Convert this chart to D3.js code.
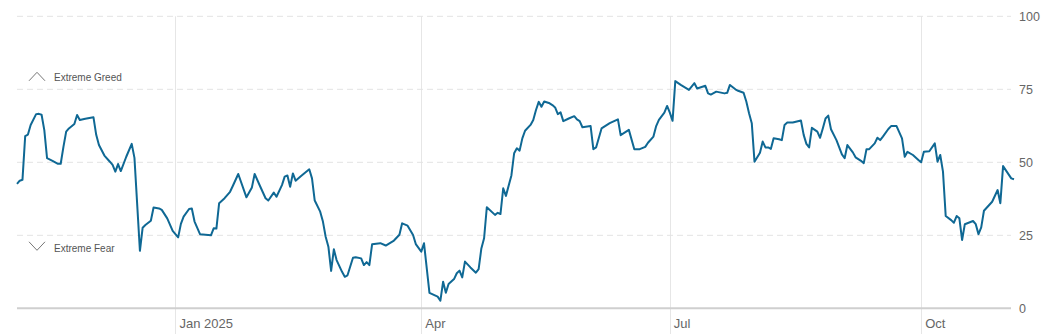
<!DOCTYPE html>
<html>
<head>
<meta charset="utf-8">
<script src="https://cdn.jsdelivr.net/npm/d3@7"></script>
<style>
  html, body { margin: 0; padding: 0; background: #fff; }
  svg { display: block; font-family: "Liberation Sans", Arial, sans-serif; }
</style>
</head>
<body>
<svg id="chart" width="1051" height="334"></svg>
<script>
const dates = [
  "2024-11-04","2024-11-05","2024-11-06","2024-11-07","2024-11-08","2024-11-09","2024-11-11","2024-11-12","2024-11-13","2024-11-14",
  "2024-11-15","2024-11-17","2024-11-19","2024-11-20","2024-11-21","2024-11-22","2024-11-23","2024-11-25","2024-11-26","2024-11-27",
  "2024-11-29","2024-12-02","2024-12-03","2024-12-04","2024-12-06","2024-12-08","2024-12-09","2024-12-10","2024-12-11","2024-12-12",
  "2024-12-14","2024-12-16","2024-12-17","2024-12-19","2024-12-20","2024-12-21","2024-12-23","2024-12-24","2024-12-26","2024-12-27",
  "2024-12-29","2024-12-31","2025-01-02","2025-01-03","2025-01-04","2025-01-06","2025-01-07","2025-01-08","2025-01-10","2025-01-14",
  "2025-01-15","2025-01-16","2025-01-17","2025-01-19","2025-01-21","2025-01-22","2025-01-24","2025-01-27","2025-01-29","2025-01-30",
  "2025-02-01","2025-02-03","2025-02-04","2025-02-06","2025-02-07","2025-02-09","2025-02-10","2025-02-11","2025-02-12","2025-02-13",
  "2025-02-14","2025-02-16","2025-02-19","2025-02-20","2025-02-21","2025-02-23","2025-02-24","2025-02-25","2025-02-26","2025-02-27",
  "2025-02-28","2025-03-01","2025-03-03","2025-03-04","2025-03-05","2025-03-07","2025-03-08","2025-03-10","2025-03-11","2025-03-12",
  "2025-03-13","2025-03-14","2025-03-17","2025-03-19","2025-03-22","2025-03-24","2025-03-25","2025-03-27","2025-03-29","2025-03-30",
  "2025-04-01","2025-04-02","2025-04-04","2025-04-07","2025-04-08","2025-04-09","2025-04-10","2025-04-11","2025-04-13","2025-04-14",
  "2025-04-15","2025-04-16","2025-04-17","2025-04-19","2025-04-21","2025-04-22","2025-04-23","2025-04-24","2025-04-25","2025-04-28",
  "2025-04-29","2025-04-30","2025-05-01","2025-05-02","2025-05-04","2025-05-05","2025-05-06","2025-05-07","2025-05-08","2025-05-09",
  "2025-05-11","2025-05-12","2025-05-13","2025-05-14","2025-05-15","2025-05-16","2025-05-18","2025-05-19","2025-05-20","2025-05-21",
  "2025-05-22","2025-05-23","2025-05-25","2025-05-27","2025-05-28","2025-05-29","2025-05-30","2025-06-02","2025-06-03","2025-06-04",
  "2025-06-06","2025-06-09","2025-06-12","2025-06-13","2025-06-16","2025-06-18","2025-06-20","2025-06-22","2025-06-23","2025-06-25",
  "2025-06-26","2025-06-27","2025-06-29","2025-06-30","2025-07-01","2025-07-02","2025-07-03","2025-07-05","2025-07-08","2025-07-10",
  "2025-07-11","2025-07-14","2025-07-15","2025-07-16","2025-07-18","2025-07-21","2025-07-22","2025-07-23","2025-07-25","2025-07-26",
  "2025-07-28","2025-07-29","2025-07-30","2025-07-31","2025-08-01","2025-08-03","2025-08-04","2025-08-05","2025-08-06","2025-08-07",
  "2025-08-08","2025-08-10","2025-08-11","2025-08-12","2025-08-13","2025-08-15","2025-08-18","2025-08-19","2025-08-20","2025-08-21",
  "2025-08-22","2025-08-24","2025-08-25","2025-08-26","2025-08-27","2025-08-28","2025-08-29","2025-08-31","2025-09-02","2025-09-03",
  "2025-09-04","2025-09-06","2025-09-07","2025-09-09","2025-09-10","2025-09-11","2025-09-12","2025-09-14","2025-09-15","2025-09-16",
  "2025-09-17","2025-09-19","2025-09-20","2025-09-22","2025-09-24","2025-09-25","2025-09-26","2025-09-28","2025-09-30","2025-10-01",
  "2025-10-02","2025-10-04","2025-10-06","2025-10-07","2025-10-08","2025-10-09","2025-10-10","2025-10-12","2025-10-13","2025-10-14",
  "2025-10-15","2025-10-16","2025-10-17","2025-10-20","2025-10-21","2025-10-22","2025-10-23","2025-10-24","2025-10-27","2025-10-29",
  "2025-10-30","2025-10-31","2025-11-03","2025-11-04"
];
const values = [
  42.6,43.7,44.0,59.0,59.5,62.8,66.5,66.6,66.3,61.0,
  51.4,50.5,49.5,49.5,55.3,60.5,61.6,63.1,66.2,64.5,
  64.9,65.4,59.4,55.9,52.3,50.2,49.1,46.8,49.4,47.0,
  51.9,56.3,51.5,19.7,27.6,28.5,30.0,34.5,34.2,33.7,
  30.8,26.5,24.3,28.9,31.4,34.0,34.2,29.7,25.4,25.0,
  27.4,27.3,36.0,37.7,39.9,41.9,46.0,38.0,41.4,46.0,
  41.8,37.7,36.9,39.6,38.2,42.2,45.1,45.5,41.6,46.2,
  43.7,45.3,47.6,44.5,36.9,33.1,29.7,24.5,21.1,12.8,
  20.2,16.5,12.5,10.8,11.3,17.3,17.5,17.1,14.8,15.8,
  14.8,21.9,22.3,21.5,23.2,25.2,29.1,28.3,25.1,22.0,
  19.4,22.3,5.3,4.0,2.6,9.1,5.3,8.3,10.0,12.0,
  12.9,10.6,16.0,14.0,12.2,13.4,20.5,24.0,34.6,32.0,
  32.7,32.3,41.1,38.5,45.5,53.1,54.8,54.0,58.2,60.8,
  62.8,64.5,67.9,70.7,69.0,70.8,70.2,69.6,68.8,66.5,
  67.1,64.1,65.0,65.8,64.7,64.1,62.0,62.4,54.5,55.1,
  61.6,63.4,64.7,59.3,61.1,54.5,54.5,55.3,56.7,58.8,
  62.4,64.5,67.0,69.3,67.0,64.2,77.8,76.5,74.8,77.1,
  75.3,76.2,73.6,73.2,74.2,73.6,73.8,76.5,75.0,74.5,
  73.8,70.8,66.8,63.4,50.2,53.3,57.1,55.1,55.1,54.6,
  58.2,57.9,57.6,62.8,63.6,63.6,64.3,59.4,56.3,55.1,
  61.8,60.5,58.4,61.6,65.0,66.0,61.3,57.6,52.7,51.4,
  55.9,53.4,51.7,50.5,49.7,54.5,54.5,56.5,58.4,57.6,
  58.8,61.4,62.4,62.4,58.2,51.9,53.6,52.5,50.8,50.0,
  53.6,53.8,56.5,50.2,52.5,46.8,31.6,30.2,29.3,31.6,
  30.8,23.4,28.8,29.9,28.8,25.4,27.7,33.4,36.5,40.5,
  36.0,48.7,44.5,44.2
];
const yTicks = [0, 25, 50, 75, 100];
const xTickDates = ["2025-01-01", "2025-04-01", "2025-07-01", "2025-10-01"];
const xTickLabels = ["Jan 2025", "Apr", "Jul", "Oct"];
const zoneLabels = ["Extreme Greed", "Extreme Fear"];

const parse = d3.timeParse("%Y-%m-%d");
const data = dates.map((d, i) => ({ date: parse(d), value: values[i] }));

const svg = d3.select("#chart");
const mLeft = 17, mRight = 1014, gridRight = 1011, mTop = 16.3, mBottom = 308.3;

const x = d3.scaleTime().domain([parse("2024-11-04"), parse("2025-11-04")]).range([mLeft, mRight]);
const y = d3.scaleLinear().domain([0, 100]).range([mBottom, mTop]);

// vertical month lines
svg.append("g").selectAll("line").data(xTickDates).join("line")
  .attr("x1", d => Math.round(x(parse(d))) + 0.5).attr("x2", d => Math.round(x(parse(d))) + 0.5)
  .attr("y1", mTop).attr("y2", 334)
  .attr("stroke", "#e6e6e6").attr("stroke-width", 1);

// horizontal dashed gridlines
svg.append("g").selectAll("line").data(yTicks.filter(t => t > 0)).join("line")
  .attr("x1", mLeft).attr("x2", gridRight)
  .attr("y1", d => y(d)).attr("y2", d => y(d))
  .attr("stroke", "#e3e3e3").attr("stroke-width", 1).attr("stroke-dasharray", "6,4");

// baseline
svg.append("line").attr("x1", mLeft).attr("x2", gridRight)
  .attr("y1", y(0)).attr("y2", y(0))
  .attr("stroke", "#cfcfcf").attr("stroke-width", 2);

// y labels on right
svg.append("g").selectAll("text").data(yTicks).join("text")
  .attr("x", 1019).attr("y", d => y(d)).attr("dy", "0.35em")
  .attr("font-size", 12.5).attr("fill", "#666")
  .text(d => d);

// x labels
svg.append("g").selectAll("text").data(xTickDates).join("text")
  .attr("x", d => x(parse(d)) + 4).attr("y", 328)
  .attr("font-size", 13).attr("fill", "#666")
  .text((d, i) => xTickLabels[i]);

// zone annotations
const zones = [
  { label: zoneLabels[0], v: 75, up: true },
  { label: zoneLabels[1], v: 25, up: false }
];
const zg = svg.append("g").selectAll("g").data(zones).join("g");
zg.append("path")
  .attr("d", d => {
    const cy = d.up ? y(d.v) - 13 : y(d.v) + 11;
    return d.up
      ? `M29,${cy + 4.5}L37,${cy - 4}L45,${cy + 4.5}`
      : `M29,${cy - 4.5}L37,${cy + 4}L45,${cy - 4.5}`;
  })
  .attr("fill", "none").attr("stroke", "#777").attr("stroke-width", 1);
zg.append("text")
  .attr("x", 54).attr("y", d => d.up ? y(d.v) - 12 : y(d.v) + 13.5).attr("dy", "0.35em")
  .attr("font-size", 10).attr("fill", "#555")
  .text(d => d.label);

// line
svg.append("path").datum(data)
  .attr("fill", "none").attr("stroke", "#0f6894").attr("stroke-width", 2)
  .attr("stroke-linejoin", "round")
  .attr("d", d3.line().x(d => x(d.date)).y(d => y(d.value)));
</script>
</body>
</html>
